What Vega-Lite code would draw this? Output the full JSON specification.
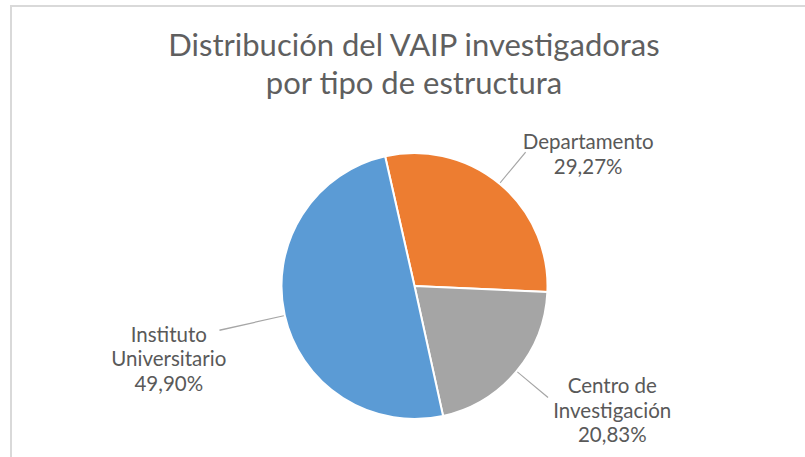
{
  "$schema": "https://vega.github.io/schema/vega-lite/v6.json",
  "width": 794,
  "height": 451,
  "autosize": {"type": "none"},
  "padding": {"left": 11, "top": 6, "right": 0, "bottom": 0},
  "background": "white",
  "config": {"view": {"stroke": null}, "text": {"lineBreak": "\n"}},
  "title": {
    "text": ["Distribución del VAIP investigadoras", "por tipo de estructura"],
    "font": "Lato", "fontSize": 31, "fontWeight": "normal", "color": "#5f5f5f",
    "lineHeight": 38, "anchor": "middle", "dx": 6, "offset": -120, "baseline": "alphabetic"
  },
  "data": {"values": [
    {"categoria": "Departamento", "valor": 29.27, "etiqueta": "Departamento\n29,27%"},
    {"categoria": "Centro de Investigación", "valor": 20.83, "etiqueta": "Centro de\nInvestigación\n20,83%"},
    {"categoria": "Instituto Universitario", "valor": 49.90, "etiqueta": "Instituto\nUniversitario\n49,90%"}
  ]},
  "transform": [
    {"window": [{"op": "sum", "field": "valor", "as": "acum"}], "sort": [{"field": "categoria", "order": "ascending"}], "frame": [null, 0]},
    {"calculate": "datum.acum - datum.valor / 2", "as": "mid"},
    {"calculate": "datum.mid + 0.12", "as": "mid2"}
  ],
  "layer": [
    {
      "data": {"values": [{}]},
      "mark": {"type": "rule", "stroke": "#d9d9d9", "strokeWidth": 2, "strokeCap": "square"},
      "encoding": {"y": {"value": 0}, "x": {"value": 0}, "x2": {"value": 794}}
    },
    {
      "data": {"values": [{}]},
      "mark": {"type": "rule", "stroke": "#d9d9d9", "strokeWidth": 2},
      "encoding": {"x": {"value": 0}, "y": {"value": 0}, "y2": {"value": 451}}
    },
    {
      "mark": {"type": "arc", "outerRadius": 133, "stroke": "white", "strokeWidth": 2, "xOffset": 6.5, "yOffset": 54.5},
      "encoding": {
        "theta": {"field": "valor", "type": "quantitative", "scale": {"domain": [0, 100], "range": [2.925, -3.358]}},
        "color": {"field": "categoria", "type": "nominal", "legend": null,
          "scale": {"domain": ["Centro de Investigación", "Departamento", "Instituto Universitario"], "range": ["#A5A5A5", "#ED7D31", "#5B9BD5"]}}
      }
    },
    {
      "transform": [{"filter": "datum.categoria !== 'Instituto Universitario'"}],
      "mark": {"type": "arc", "radius": 174, "radius2": 134, "color": "#a6a6a6", "xOffset": 6.5, "yOffset": 54.5},
      "encoding": {
        "theta": {"field": "mid", "type": "quantitative", "stack": null},
        "theta2": {"field": "mid2"}
      }
    },
    {
      "transform": [{"filter": "datum.categoria === 'Instituto Universitario'"}],
      "mark": {"type": "arc", "radius": 200, "radius2": 134, "color": "#a6a6a6", "xOffset": 6.5, "yOffset": 54.5},
      "encoding": {
        "theta": {"field": "mid", "type": "quantitative", "stack": null},
        "theta2": {"field": "mid2"}
      }
    },
    {
      "transform": [{"filter": "datum.categoria === 'Departamento'"}],
      "mark": {"type": "text", "radius": 218, "thetaOffset": 0.225, "xOffset": 6.5, "yOffset": 54.5, "dy": -11, "font": "Lato", "fontSize": 20.5, "color": "#595959", "lineHeight": 24.5, "align": "center", "baseline": "middle"},
      "encoding": {"theta": {"field": "mid", "type": "quantitative", "stack": null}, "text": {"field": "etiqueta"}}
    },
    {
      "transform": [{"filter": "datum.categoria === 'Centro de Investigación'"}],
      "mark": {"type": "text", "radius": 234, "thetaOffset": -0.136, "xOffset": 6.5, "yOffset": 54.5, "dy": -24, "font": "Lato", "fontSize": 20.5, "color": "#595959", "lineHeight": 24.5, "align": "center", "baseline": "middle"},
      "encoding": {"theta": {"field": "mid", "type": "quantitative", "stack": null}, "text": {"field": "etiqueta"}}
    },
    {
      "transform": [{"filter": "datum.categoria === 'Instituto Universitario'"}],
      "mark": {"type": "text", "radius": 256, "thetaOffset": -0.065, "xOffset": 6.5, "yOffset": 54.5, "dy": -22, "font": "Lato", "fontSize": 20.5, "color": "#595959", "lineHeight": 24.5, "align": "center", "baseline": "middle"},
      "encoding": {"theta": {"field": "mid", "type": "quantitative", "stack": null}, "text": {"field": "etiqueta"}}
    }
  ]
}
